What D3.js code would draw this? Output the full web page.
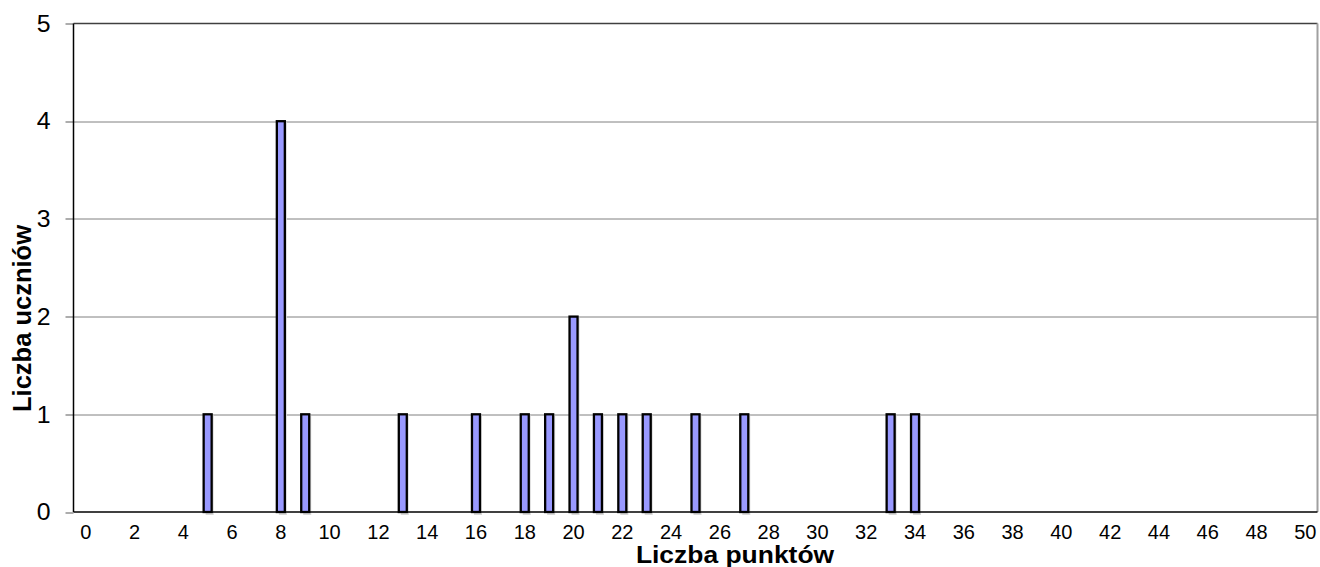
<!DOCTYPE html>
<html lang="pl">
<head>
    <meta charset="UTF-8">
    <title>Liczba punktów</title>
    <script src="https://d3js.org/d3.v7.min.js"></script>
    <style>
        body { margin: 0; background: #fff; }
        text { font-family: Arial, "Liberation Sans", sans-serif; }
    </style>
</head>
<body>
    <div id="vis"></div>

    <script>

        // points 0..50
        var points = d3.range(0, 51);
        var barPoints = [5, 8, 9, 13, 16, 18, 19, 20, 21, 22, 23, 25, 27, 33, 34];
        var barCounts = [1, 4, 1, 1, 1, 1, 1, 2, 1, 1, 1, 1, 1, 1, 1];
        var yTicks = [0, 1, 2, 3, 4, 5];
        var xTickLabels = points.filter(function(d) { return d % 2 === 0; });

        var width = 1320;
        var height = 567;

        var margin = {
            top: 23.5,
            left: 73.5,
            right: 2.5,
            bottom: 55
        };

        var svg = d3.select("#vis")
            .append("svg")
              .attr("width", width)
              .attr("height", height);

        var w = width - margin.left - margin.right;
        var h = height - margin.top - margin.bottom;

        var g = svg.append("g")
            .attr("transform", "translate(" + margin.left + "," + margin.top + ")");

        var x_scale = d3.scaleBand()
            .domain(points)
            .range([0, w]);

        var y_scale = d3.scaleLinear()
            .domain([0, 5])
            .range([h, 0]);

        // gridlines
        g.selectAll(".grid")
            .data(yTicks.filter(function(d) { return d > 0 && d < 5; }))
            .enter()
            .append("line")
              .attr("x1", 0)
              .attr("x2", w)
              .attr("y1", function(d) { return Math.round(y_scale(d)) + 0.5; })
              .attr("y2", function(d) { return Math.round(y_scale(d)) + 0.5; })
              .attr("stroke", "#808080")
              .attr("stroke-width", 1);

        // plot area border top / right
        g.append("line")
            .attr("x1", 0).attr("x2", w)
            .attr("y1", 0).attr("y2", 0)
            .attr("stroke", "#404040").attr("stroke-width", 1.3);
        g.append("line")
            .attr("x1", w).attr("x2", w)
            .attr("y1", 0).attr("y2", h)
            .attr("stroke", "#a0a0a0").attr("stroke-width", 2);

        // y tick marks
        g.selectAll(".ytick")
            .data(yTicks)
            .enter()
            .append("line")
              .attr("x1", -8)
              .attr("x2", 0)
              .attr("y1", function(d) { return Math.round(y_scale(d)) + 0.5; })
              .attr("y2", function(d) { return Math.round(y_scale(d)) + 0.5; })
              .attr("stroke", "#808080")
              .attr("stroke-width", 1.3);

        g.selectAll(".ylabel")
            .data(yTicks)
            .enter()
            .append("text")
              .attr("transform", function(d) {
                  return "translate(-23," + y_scale(d) + ") scale(1.08,1)";
              })
              .attr("dy", "0.36em")
              .attr("text-anchor", "end")
              .attr("font-size", 23)
              .text(function(d) { return d; });

        var bars = barPoints.map(function(p, i) { return { x: p, y: barCounts[i] }; });
        var bw = 8;

        // light shadow
        g.selectAll(".shadow")
            .data(bars)
            .enter()
            .append("rect")
              .attr("x", function(d) { return x_scale(d.x) + x_scale.bandwidth() / 2 - bw / 2 + 2; })
              .attr("y", function(d) { return y_scale(d.y) + 1; })
              .attr("width", bw)
              .attr("height", function(d) { return h - y_scale(d.y) + 2; })
              .attr("fill", "#d8d8d8");

        g.selectAll(".bar")
            .data(bars)
            .enter()
            .append("rect")
              .attr("class", "bar")
              .attr("x", function(d) { return x_scale(d.x) + x_scale.bandwidth() / 2 - bw / 2; })
              .attr("y", function(d) { return y_scale(d.y); })
              .attr("width", bw)
              .attr("height", function(d) { return h - y_scale(d.y); })
              .attr("fill", "#9999ff")
              .attr("stroke", "#000")
              .attr("stroke-width", 2.3);

        // axes lines
        g.append("line")
            .attr("x1", 0).attr("x2", 0)
            .attr("y1", 0).attr("y2", h)
            .attr("stroke", "#000").attr("stroke-width", 1.5);
        g.append("line")
            .attr("x1", 0).attr("x2", w)
            .attr("y1", h).attr("y2", h)
            .attr("stroke", "#000").attr("stroke-width", 1.5);

        g.selectAll(".xlabel")
            .data(xTickLabels)
            .enter()
            .append("text")
              .attr("x", function(d) { return x_scale(d) + x_scale.bandwidth() / 2; })
              .attr("y", h + 26.5)
              .attr("text-anchor", "middle")
              .attr("font-size", 20)
              .text(function(d) { return d; });

        svg.append("text")
            .attr("transform", "translate(735,562.5) scale(1.15,1)")
            .attr("text-anchor", "middle")
            .attr("font-size", 23)
            .attr("font-weight", "bold")
            .text("Liczba punktów");

        svg.append("text")
            .attr("transform", "translate(31,318.5) rotate(-90)")
            .attr("text-anchor", "middle")
            .attr("font-size", 25.5)
            .attr("font-weight", "bold")
            .text("Liczba uczniów");

    </script>
</body>
</html>
